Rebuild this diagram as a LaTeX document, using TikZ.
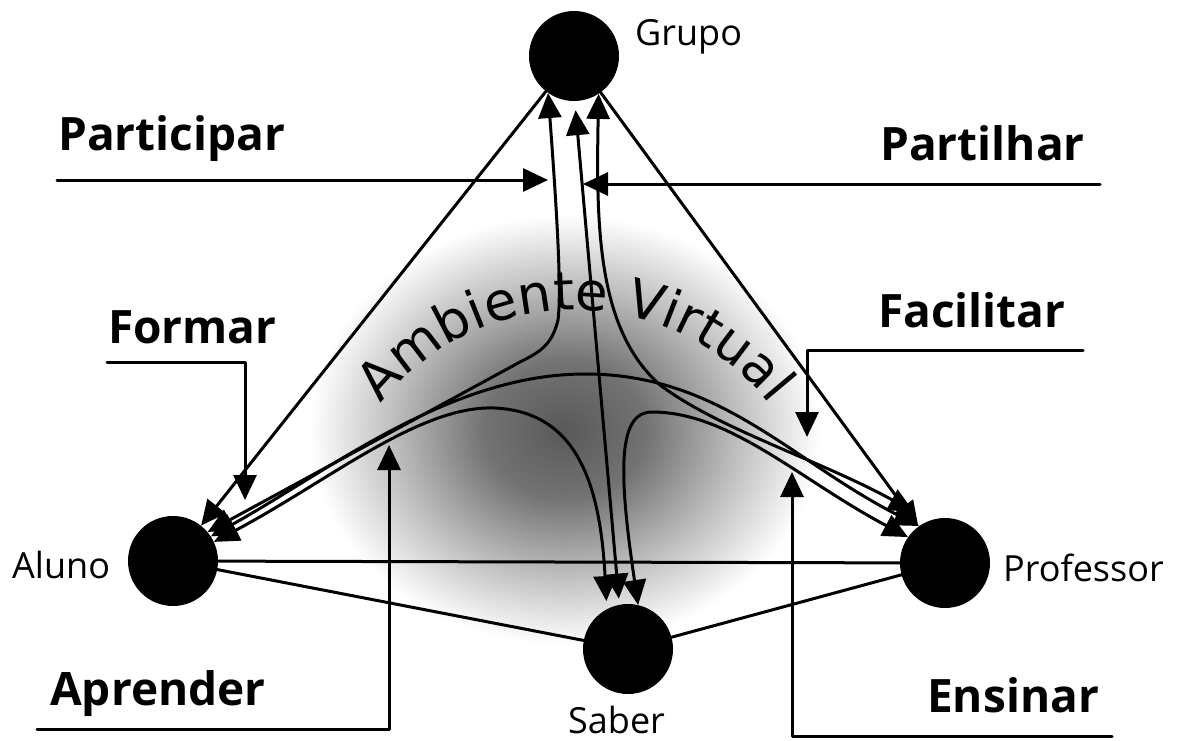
\documentclass[tikz,border=0pt]{standalone}
\usepackage{fontspec}
\usetikzlibrary{arrows.meta,decorations.text}
\newfontfamily\labfont{Open Sans}
\newfontfamily\ambfont{DejaVu Sans}

\pgfdeclareradialshading{ambshade}{\pgfpoint{0bp}{0bp}}{color(0bp)=(black!65); color(8bp)=(black!55); color(17bp)=(black!25); color(25bp)=(white); color(50bp)=(white)}

\tikzset{
  dot/.style={circle, fill=black, minimum size=90pt, inner sep=0pt},
  verb/.style={anchor=base west, inner sep=0pt, font=\labfont\bfseries\fontsize{46}{50}\selectfont},
  who/.style={anchor=base west, inner sep=0pt, font=\labfont\fontsize{36}{40}\selectfont},
  flow/.style={line width=3pt},
  tip/.style={-{Triangle[length=25pt,width=23pt]}},
  both/.style={{Triangle[length=25pt,width=23pt]}-{Triangle[length=25pt,width=23pt]}}
}

\begin{document}
\begin{tikzpicture}[x=1pt, y=-1pt, line cap=round, line join=round]

  \useasboundingbox (0,0) rectangle (1187,740);

  % the cloud in the middle
  \shade[shading=ambshade] (565,430) ellipse [x radius=255, y radius=215];

  % the four actors
  \node[dot] (grupo) at (574,56) {};
  \node[dot] (aluno) at (173,561) {};
  \node[dot] (prof) at (945,563) {};
  \node[dot] (saber) at (628,649) {};

  \node[who] (grupo-l) at (635,45) {Grupo};
  \node[who] (aluno-l) at (12,578) {Aluno};
  \node[who] (prof-l) at (1003,581) {Professor};
  \node[who] (saber-l) at (568,733) {Saber};

  % outer triangle
  \draw[flow,tip] (grupo) -- (aluno);
  \draw[flow,tip] (grupo) -- (prof);
  \draw[flow] (aluno) -- (prof);
  \draw[flow] (aluno) -- (saber);
  \draw[flow] (saber) -- (prof);

  % flows through the virtual space
  \draw[flow,both] (grupo.-125) .. controls (556,200) and (562,290) .. (558,320)
    .. controls (552,345) and (540,352) .. (520,362) -- (aluno.40);
  \draw[flow,both,shorten >=18pt] (grupo.-57) .. controls (596,230) and (598,330) .. (660,385)
    .. controls (720,430) and (820,460) .. (prof.110);
  \draw[flow,both,shorten <=9pt,shorten >=6pt] (grupo.-89) -- (saber.101);
  \draw[flow,both] (aluno.33) .. controls (330,470) and (450,374) .. (585,374)
    .. controls (720,374) and (790,460) .. (prof.125);
  \draw[flow,both,shorten >=8pt] (aluno.25) .. controls (330,480) and (420,405) .. (495,408)
    .. controls (575,412) and (600,480) .. (saber.118);
  \draw[flow,both] (saber.77) .. controls (618,470) and (618,412) .. (652,412)
    .. controls (730,412) and (800,480) .. (prof.145);

  % verbs
  \node[verb] (participar) at (58,150) {Participar};
  \node[verb] (partilhar) at (880,160) {Partilhar};
  \node[verb] (formar) at (108,343) {Formar};
  \node[verb] (facilitar) at (878,327) {Facilitar};
  \node[verb] (aprender) at (50,705) {Aprender};
  \node[verb] (ensinar) at (927,712) {Ensinar};

  \coordinate (participar-a) at (57,180);
  \coordinate (participar-b) at (548,180);
  \coordinate (partilhar-a) at (1100,184);
  \coordinate (partilhar-b) at (583,184);
  \coordinate (formar-a) at (107,362);
  \coordinate (formar-b) at (245,500);
  \coordinate (facilitar-a) at (1083,350);
  \coordinate (facilitar-b) at (807,437);
  \coordinate (aprender-a) at (37,729);
  \coordinate (aprender-b) at (389,445);
  \coordinate (ensinar-a) at (1112,736);
  \coordinate (ensinar-b) at (792,472);

  \draw[flow,tip] (participar-a) -- (participar-b);
  \draw[flow,tip] (partilhar-a) -- (partilhar-b);
  \draw[flow,tip] (formar-a) -| (formar-b);
  \draw[flow,tip] (facilitar-a) -| (facilitar-b);
  \draw[flow,tip] (aprender-a) -| (aprender-b);
  \draw[flow,tip] (ensinar-a) -| (ensinar-b);

  % curved title
  \path[decorate, decoration={text along path, text align=center,
      text={|\ambfont\fontsize{53}{60}\selectfont|Ambiente Virtual}}]
    (372,416) .. controls (471,275) and (679,275) .. (778,416);

\end{tikzpicture}
\end{document}
